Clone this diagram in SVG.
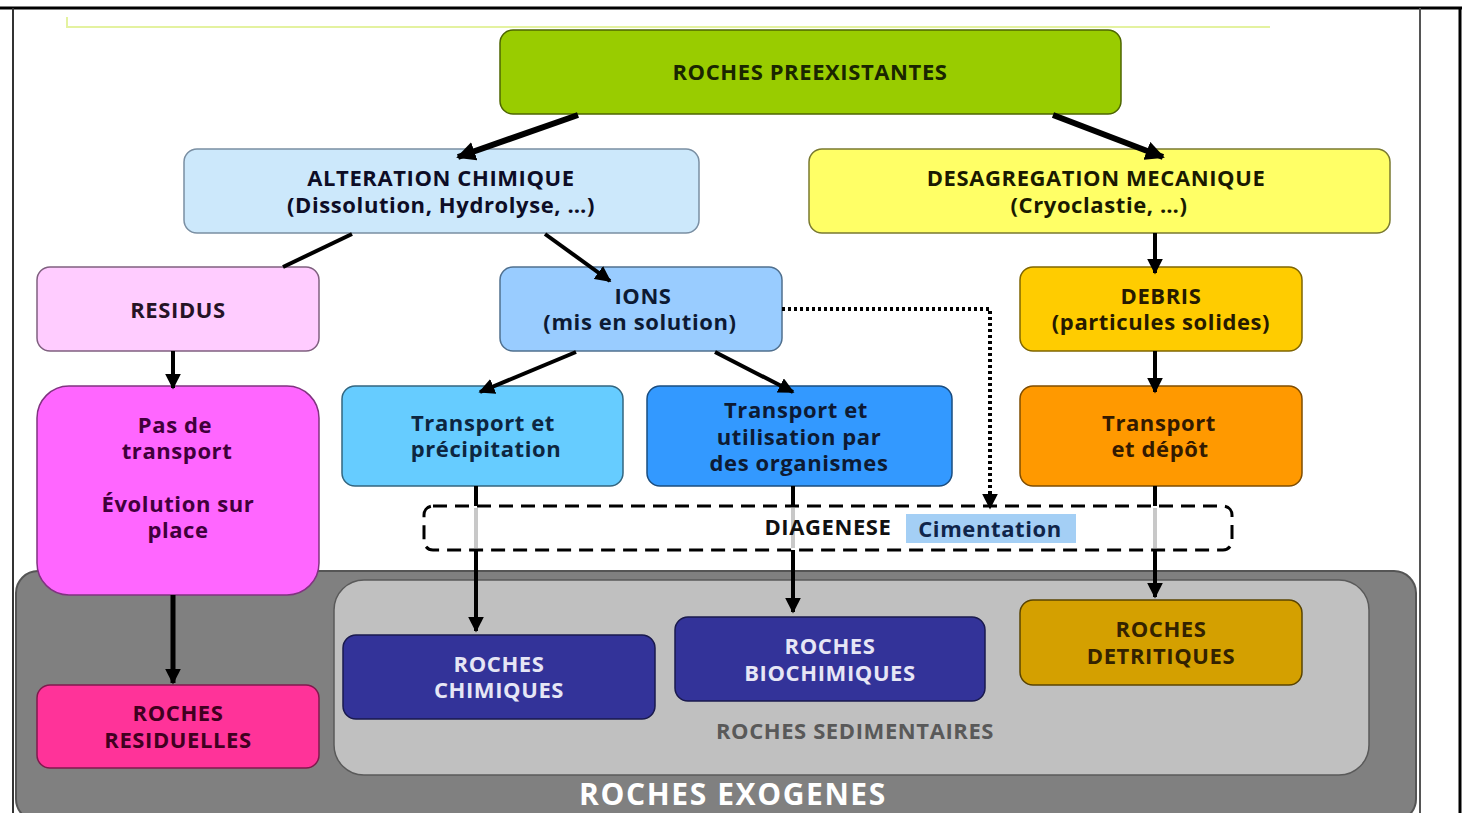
<svg xmlns="http://www.w3.org/2000/svg" width="1466" height="813" viewBox="0 0 1466 813">
<defs>
<marker id="ah" viewBox="0 0 10 10" refX="9" refY="5" markerWidth="4" markerHeight="4" orient="auto" markerUnits="strokeWidth"><path d="M0,0 L10,5 L0,10 z" fill="#000"/></marker>
<marker id="ahs" viewBox="0 0 10 10" refX="9" refY="5" markerWidth="3.2" markerHeight="3.2" orient="auto" markerUnits="strokeWidth"><path d="M0,0 L10,5 L0,10 z" fill="#000"/></marker>
</defs>
<style>
text{font-family:"Open Sans","Liberation Sans",sans-serif;font-weight:bold;text-anchor:middle;dominant-baseline:middle;font-size:22px;letter-spacing:0.6px}
.box{stroke-width:1.5}
.con{fill:none;stroke:#000}
</style>
<rect x="0" y="0" width="1466" height="813" fill="#fff"/>
<!-- frame -->
<g id="frame" fill="none">
<line x1="0" y1="8" x2="1462" y2="8" stroke="#000" stroke-width="3"/>
<line x1="13" y1="8" x2="13" y2="813" stroke="#333" stroke-width="2"/>
<line x1="1420" y1="8" x2="1420" y2="813" stroke="#555" stroke-width="2"/>
<line x1="1460" y1="8" x2="1460" y2="813" stroke="#000" stroke-width="3"/>
<path d="M67,17 V27 H1270" stroke="#e4f2a0" stroke-width="2"/>
</g>
<!-- background containers -->
<g id="exogenes">
<rect x="16" y="571" width="1400" height="250" rx="22" fill="#808080" stroke="#555" stroke-width="2"/>
<text x="733" y="797" style="font-size:30px;letter-spacing:1.6px" fill="#fff">ROCHES EXOGENES</text>
</g>
<g id="sedimentaires">
<rect x="334" y="580" width="1035" height="195" rx="30" fill="#c0c0c0" stroke="#5a5a5a" stroke-width="1.5"/>
<text x="855" y="733" fill="#595959">ROCHES SEDIMENTAIRES</text>
</g>
<g id="diagenese">
<rect x="424" y="506" width="808" height="44" rx="9" fill="none" stroke="#000" stroke-width="3" stroke-dasharray="14,8"/>
<rect x="906" y="514" width="170" height="29" fill="#a4cff5"/>
</g>
<!-- nodes -->
<g id="preexistantes">
<rect class="box" x="500" y="30" width="621" height="84" rx="13" fill="#99cc00" stroke="#4d6600"/>
<text x="810" y="74" fill="#1a2600">ROCHES PREEXISTANTES</text>
</g>
<g id="alteration">
<rect class="box" x="184" y="149" width="515" height="84" rx="13" fill="#cce8fb" stroke="#7a8fa3"/>
<text x="441" y="180" fill="#0d0d26">ALTERATION CHIMIQUE</text>
<text x="441" y="207" fill="#0d0d26">(Dissolution, Hydrolyse, …)</text>
</g>
<g id="desagregation">
<rect class="box" x="809" y="149" width="581" height="84" rx="13" fill="#ffff66" stroke="#7a7a30"/>
<text x="1096" y="180" fill="#1a1a00">DESAGREGATION MECANIQUE</text>
<text x="1099" y="207" fill="#1a1a00">(Cryoclastie, …)</text>
</g>
<g id="residus">
<rect class="box" x="37" y="267" width="282" height="84" rx="13" fill="#ffccff" stroke="#806080"/>
<text x="178" y="312" fill="#261326">RESIDUS</text>
</g>
<g id="ions">
<rect class="box" x="500" y="267" width="282" height="84" rx="13" fill="#99ccff" stroke="#50708f"/>
<text x="643" y="298" fill="#0d1a33">IONS</text>
<text x="640" y="324" fill="#0d1a33">(mis en solution)</text>
</g>
<g id="debris">
<rect class="box" x="1020" y="267" width="282" height="84" rx="13" fill="#ffcc00" stroke="#806600"/>
<text x="1161" y="298" fill="#261a00">DEBRIS</text>
<text x="1161" y="324" fill="#261a00">(particules solides)</text>
</g>
<g id="pasdetransport">
<rect class="box" x="37" y="386" width="282" height="209" rx="32" fill="#ff66ff" stroke="#803380"/>
<text x="175" y="427" fill="#40003a">Pas de</text>
<text x="177" y="453" fill="#40003a">transport</text>
<text x="178" y="506" fill="#40003a">Évolution sur</text>
<text x="178" y="532" fill="#40003a">place</text>
</g>
<g id="precipitation">
<rect class="box" x="342" y="386" width="281" height="100" rx="13" fill="#66ccff" stroke="#336680"/>
<text x="483" y="425" fill="#0d2640">Transport et</text>
<text x="486" y="451" fill="#0d2640">précipitation</text>
</g>
<g id="organismes">
<rect class="box" x="647" y="386" width="305" height="100" rx="13" fill="#3399ff" stroke="#1a4d80"/>
<text x="796" y="412" fill="#0d1a33">Transport et</text>
<text x="799" y="439" fill="#0d1a33">utilisation par</text>
<text x="799" y="465" fill="#0d1a33">des organismes</text>
</g>
<g id="depot">
<rect class="box" x="1020" y="386" width="282" height="100" rx="13" fill="#ff9900" stroke="#804d00"/>
<text x="1159" y="425" fill="#331a00">Transport</text>
<text x="1160" y="451" fill="#331a00">et dépôt</text>
</g>
<g id="chimiques">
<rect class="box" x="343" y="635" width="312" height="84" rx="13" fill="#333399" stroke="#1a1a4d"/>
<text x="499" y="666" fill="#e6e6f5">ROCHES</text>
<text x="499" y="692" fill="#e6e6f5">CHIMIQUES</text>
</g>
<g id="biochimiques">
<rect class="box" x="675" y="617" width="310" height="84" rx="13" fill="#333399" stroke="#1a1a4d"/>
<text x="830" y="648" fill="#e6e6f5">ROCHES</text>
<text x="830" y="675" fill="#e6e6f5">BIOCHIMIQUES</text>
</g>
<g id="detritiques">
<rect class="box" x="1020" y="600" width="282" height="85" rx="13" fill="#d4a000" stroke="#5a4400"/>
<text x="1161" y="631" fill="#332200">ROCHES</text>
<text x="1161" y="658" fill="#332200">DETRITIQUES</text>
</g>
<g id="residuelles">
<rect class="box" x="37" y="685" width="282" height="83" rx="13" fill="#ff3399" stroke="#801a4d"/>
<text x="178" y="715" fill="#400020">ROCHES</text>
<text x="178" y="742" fill="#400020">RESIDUELLES</text>
</g>
<!-- connectors -->
<g id="connectors">
<line class="con" x1="578" y1="115" x2="458" y2="157" stroke-width="6" marker-end="url(#ahs)"/>
<line class="con" x1="1053" y1="115" x2="1163" y2="157" stroke-width="6" marker-end="url(#ahs)"/>
<line class="con" x1="352" y1="234" x2="283" y2="267" stroke-width="4"/>
<line class="con" x1="545" y1="234" x2="610" y2="281" stroke-width="4" marker-end="url(#ah)"/>
<line class="con" x1="1155" y1="233" x2="1155" y2="273" stroke-width="4" marker-end="url(#ah)"/>
<line class="con" x1="576" y1="352" x2="480" y2="392" stroke-width="4" marker-end="url(#ah)"/>
<line class="con" x1="715" y1="352" x2="793" y2="392" stroke-width="4" marker-end="url(#ah)"/>
<line class="con" x1="1155" y1="351" x2="1155" y2="392" stroke-width="4" marker-end="url(#ah)"/>
<line class="con" x1="173" y1="351" x2="173" y2="388" stroke-width="4" marker-end="url(#ah)"/>
<path class="con" d="M782,309 H990 V508" stroke-width="4" stroke-dasharray="3,3" marker-end="url(#ah)"/>
<path class="con" d="M476,486 V506" stroke-width="4"/>
<path d="M476,508 V548" stroke="#c8c8c8" stroke-width="4"/>
<path class="con" d="M476,550 V631" stroke-width="4" marker-end="url(#ah)"/>
<path class="con" d="M793,486 V506" stroke-width="4"/>
<path d="M793,508 V548" stroke="#c8c8c8" stroke-width="4"/>
<path class="con" d="M793,550 V612" stroke-width="4" marker-end="url(#ah)"/>
<path class="con" d="M1155,486 V506" stroke-width="4"/>
<path d="M1155,508 V548" stroke="#c8c8c8" stroke-width="4"/>
<path class="con" d="M1155,550 V597" stroke-width="4" marker-end="url(#ah)"/>
<line class="con" x1="173" y1="595" x2="173" y2="683" stroke-width="5" marker-end="url(#ahs)"/>
</g>
<g id="diagenese-labels">
<text x="828" y="529" fill="#111">DIAGENESE</text>
<text x="990" y="531" fill="#10254a">Cimentation</text>
</g>
</svg>
